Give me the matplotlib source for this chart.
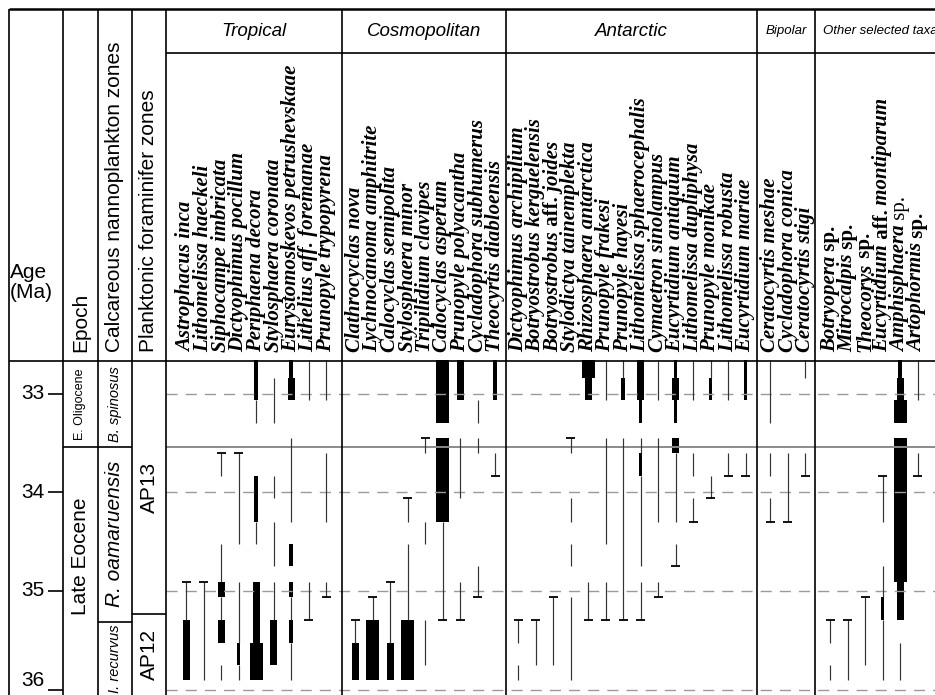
import re
import matplotlib
matplotlib.use('Agg')
import matplotlib.pyplot as plt

plt.rcParams['font.family'] = ['Liberation Sans', 'DejaVu Sans']
plt.rcParams['lines.scale_dashes'] = False

# ---- data -------------------------------------------------------------
# ranges: (top age, base age, abundance)  0 = present, 1 = few, 2 = common, 3 = abundant
# ends: ages of first / last occurrences (drawn as a cap)

tropical_taxa = ['Astrophacus inca', 'Lithomelissa haeckeli', 'Siphocampe imbricata',
                 'Dictyophimus pocillum', 'Periphaena decora', 'Stylosphaera coronata',
                 'Eurystomoskevos petrushevskaae', 'Lithelius aff. foremanae',
                 'Prunopyle trypopyrena']
tropical_ranges = [
    [(34.91, 35.29, 0), (35.29, 35.90, 2)],
    [(34.91, 35.90, 0)],
    [(33.60, 33.83, 0), (34.52, 34.91, 0), (34.91, 35.06, 2), (35.06, 35.29, 0),
     (35.29, 35.53, 2), (35.75, 35.90, 0)],
    [(33.60, 34.52, 0), (34.91, 35.53, 0), (35.53, 35.75, 1), (35.75, 35.90, 0)],
    [(32.66, 33.06, 1), (33.06, 33.30, 0), (33.83, 34.30, 1), (34.30, 34.52, 0),
     (34.91, 35.53, 2), (35.53, 35.90, 3)],
    [(32.84, 33.30, 0), (33.83, 34.06, 0), (34.30, 34.75, 0), (34.91, 35.29, 0),
     (35.29, 35.75, 2)],
    [(32.66, 32.84, 1), (32.84, 33.06, 2), (33.45, 34.30, 0), (34.52, 34.75, 1),
     (34.91, 35.06, 1), (35.06, 35.29, 0), (35.29, 35.53, 1), (35.53, 35.90, 0)],
    [(32.66, 33.06, 0), (34.91, 35.29, 0)],
    [(32.66, 33.06, 0), (33.60, 34.30, 0), (34.91, 35.06, 0)],
]
tropical_ends = [[34.91], [34.91], [33.60], [33.60], [], [], [], [35.29], [35.06]]

cosmo_taxa = ['Clathrocyclas nova', 'Lychnocanoma amphitrite', 'Calocyclas semipolita',
              'Stylosphaera minor', 'Tripilidium clavipes', 'Calocyclas asperum',
              'Prunopyle polyacantha', 'Cycladophora subhumerus', 'Theocyrtis diabloensis']
cosmo_ranges = [
    [(35.29, 35.53, 0), (35.53, 35.90, 2)],
    [(35.06, 35.29, 0), (35.29, 35.90, 3)],
    [(34.91, 35.53, 0), (35.53, 35.90, 2)],
    [(34.06, 34.30, 0), (34.52, 35.29, 0), (35.29, 35.90, 3)],
    [(33.45, 33.60, 0), (34.30, 34.52, 0), (35.29, 35.75, 0)],
    [(32.66, 33.30, 3), (33.45, 34.30, 3), (34.30, 35.29, 0)],
    [(32.66, 33.06, 2), (33.45, 34.06, 0), (34.91, 35.29, 0)],
    [(33.06, 33.30, 0), (33.45, 33.60, 0), (34.75, 35.06, 0)],
    [(32.66, 33.06, 1), (33.60, 33.83, 0)],
]
cosmo_ends = [[35.29], [35.06], [34.91], [34.06], [33.45], [35.29], [35.29], [35.06], [33.83]]

antarctic_taxa = ['Dictyophimus archipilium', 'Botryostrobus kerguelensis',
                  'Botryostrobus {aff.} joides', 'Stylodictya tainemplekta',
                  'Rhizosphaera antarctica', 'Prunopyle frakesi', 'Prunopyle hayesi',
                  'Lithomelissa sphaerocephalis', 'Cymaetron sinolampus',
                  'Eucyrtidium antiquum', 'Lithomelissa dupliphysa', 'Prunopyle monikae',
                  'Lithomelissa robusta', 'Eucyrtidium mariae']
antarctic_ranges = [
    [(35.29, 35.53, 0), (35.75, 35.90, 0)],
    [(35.29, 35.75, 0)],
    [(35.06, 35.75, 0)],
    [(33.45, 33.60, 0), (34.06, 34.30, 0), (34.52, 34.75, 0), (35.06, 35.90, 0)],
    [(32.66, 32.84, 3), (32.84, 33.06, 2), (34.91, 35.29, 0)],
    [(32.66, 33.06, 0), (33.45, 34.52, 0), (34.91, 35.29, 0)],
    [(32.66, 32.84, 0), (32.84, 33.06, 1), (33.45, 35.29, 0)],
    [(32.66, 33.06, 2), (33.06, 33.30, 1), (33.45, 33.60, 0), (33.60, 33.83, 1),
     (33.83, 34.75, 0), (34.91, 35.29, 0)],
    [(32.66, 33.06, 0), (33.45, 34.30, 0), (34.91, 35.06, 0)],
    [(32.66, 32.84, 1), (32.84, 33.06, 2), (33.06, 33.30, 1), (33.45, 33.60, 2),
     (33.60, 34.30, 0), (34.52, 34.75, 0)],
    [(32.66, 33.06, 0), (33.60, 33.83, 0), (34.06, 34.30, 0)],
    [(32.66, 32.84, 0), (32.84, 33.06, 1), (33.83, 34.06, 0)],
    [(32.66, 33.06, 0), (33.60, 33.83, 0)],
    [(32.66, 33.06, 1), (33.60, 33.83, 0)],
]
antarctic_ends = [[35.29], [35.29], [35.06], [33.45], [35.29], [35.29], [35.29], [35.29],
                  [35.06], [34.75], [34.30], [34.06], [33.83], [33.83]]

bipolar_taxa = ['Ceratocyrtis meshae', 'Cycladophora conica', 'Ceratocyrtis stigi']
bipolar_ranges = [
    [(32.66, 33.30, 0), (33.60, 33.83, 0), (34.06, 34.30, 0)],
    [(33.60, 34.30, 0)],
    [(32.66, 32.84, 0), (33.60, 33.83, 0)],
]
bipolar_ends = [[34.30], [34.30], [33.83]]

other_taxa = ['Botryopera {sp.}', 'Mitrocalpis {sp.}', 'Theocorys {sp.}',
              'Eucyrtidium {aff.} montiparum', 'Amphisphaera [sp.]', 'Artophormis {sp.}']
other_ranges = [
    [(35.29, 35.53, 0), (35.75, 35.90, 0)],
    [(35.29, 35.90, 0)],
    [(35.06, 35.75, 0)],
    [(33.83, 34.30, 0), (34.75, 35.06, 0), (35.06, 35.29, 1), (35.29, 35.90, 0)],
    [(32.66, 32.84, 1), (32.84, 33.06, 2), (33.06, 33.30, 3), (33.45, 34.91, 3),
     (34.91, 35.29, 2), (35.53, 35.90, 0)],
    [(32.66, 33.06, 0), (33.60, 33.83, 0)],
]
other_ends = [[35.29], [35.29], [35.06], [33.83], [], [33.83]]

age_ticks = [33, 34, 35, 36]
eo_boundary = 33.54        # Eocene / Oligocene
nanno_boundary = 35.31     # R. oamaruensis / I. recurvus
foram_boundary = 35.23     # AP13 / AP12
age_top, age_base = 32.662, 36.055

# ---- layout (pixel units) --------------------------------------------
W, H = 935, 695
SPACING = 17.5
groups = [
    ('Tropical', 166, 342, 186, tropical_taxa, tropical_ranges, tropical_ends, 13.5),
    ('Cosmopolitan', 342, 506, 355, cosmo_taxa, cosmo_ranges, cosmo_ends, 13.5),
    ('Antarctic', 506, 757, 518, antarctic_taxa, antarctic_ranges, antarctic_ends, 13.5),
    ('Bipolar', 757, 815, 770, bipolar_taxa, bipolar_ranges, bipolar_ends, 9.5),
    ('Other selected taxa', 815, 945, 830, other_taxa, other_ranges, other_ends, 9.5),
]
bar_width = {1: 3.5, 2: 7.0, 3: 13.0}
HDR_BOTTOM = 360.5
NAME_SIZE = 15

fig = plt.figure(figsize=(W / 100, H / 100), dpi=100)

# range chart: x in pixels, y in Ma
ax = fig.add_axes([0, 0, 945 / W, 1 - HDR_BOTTOM / H])
ax.set_xlim(0, 945)
ax.set_ylim(age_base, age_top)
ax.axis('off')

# header / frame: pixel coordinates
hdr = fig.add_axes([0, 0, 1, 1], zorder=3)
hdr.set_xlim(0, W)
hdr.set_ylim(H, 0)
hdr.axis('off')

# reference lines
for a in age_ticks:
    ax.hlines(a, 166, 945, colors='#9a9a9a', lw=1.0, linestyles=(0, (8, 5.8)))
ax.hlines(eo_boundary, 166, 945, colors='#8a8a8a', lw=1.4)

# ranges
for name, x0, x1, first, taxa, ranges, ends, hsize in groups:
    for i, (segs, caps) in enumerate(zip(ranges, ends)):
        x = first + i * SPACING
        for top, base, lvl in segs:
            if lvl == 0:
                ax.vlines(x, top, base, colors='#333333', lw=0.85)
            else:
                ax.bar(x, base - top, bottom=top, width=bar_width[lvl], color='black',
                       linewidth=0)
        for e in caps:
            ax.hlines(e, x - 4.5, x + 4.5, colors='black', lw=1.3)


def draw_name(x, label):
    # split italic / upright pieces, spaces carried to the start of the next piece
    parts = [p for p in re.split(r'(\{[^}]*\}|\[[^\]]*\])', label) if p]
    pieces = []
    carry = ''
    for p in parts:
        if p.startswith('{'):
            txt, kw = p[1:-1], dict(style='normal', weight='bold')
        elif p.startswith('['):
            txt, kw = p[1:-1], dict(style='normal', weight='normal')
        else:
            txt, kw = p, dict(style='italic', weight='bold')
        txt = carry + txt
        carry = txt[len(txt.rstrip()):]
        pieces.append((txt.rstrip(), kw))
    prev = None
    for txt, kw in pieces:
        common = dict(rotation=90, ha='center', va='bottom', family='Liberation Serif',
                      size=NAME_SIZE, **kw)
        if prev is None:
            prev = hdr.text(x, 352, txt, **common)
        else:
            prev = hdr.annotate(txt, xy=(0.5, 1.0), xycoords=prev, **common)


for name, x0, x1, first, taxa, ranges, ends, hsize in groups:
    hdr.text((x0 + x1) / 2, 31, name, ha='center', va='center', style='italic', size=hsize)
    for i, t in enumerate(taxa):
        draw_name(first + i * SPACING, t)

# frame lines
lc = dict(colors='black', lw=1.2)
hdr.hlines(9, 9, W, colors='black', lw=1.8)
hdr.hlines(53, 166, W, **lc)
hdr.hlines(HDR_BOTTOM, 9, W, **lc)
for xv in [9, 63, 98, 132, 166, 342, 506, 757, 815]:
    hdr.vlines(xv, 9, H, **lc)

# left columns
hdr.text(10, 272, 'Age', ha='left', va='center', size=15)
hdr.text(10, 292, '(Ma)', ha='left', va='center', size=15)
hdr.text(81, 352, 'Epoch', rotation=90, ha='center', va='bottom', size=15)
hdr.text(115, 352, 'Calcareous nannoplankton zones', rotation=90, ha='center', va='bottom', size=15)
hdr.text(149, 352, 'Planktonic foraminifer zones', rotation=90, ha='center', va='bottom', size=15)

for a in age_ticks:
    ax.hlines(a, 48, 63, colors='black', lw=1.2)
    ax.text(45, a, str(a), ha='right', va='center' if a < age_ticks[-1] else 'bottom', size=15)

ax.hlines(eo_boundary, 63, 132, colors='black', lw=1.2)
ax.hlines(nanno_boundary, 98, 132, colors='black', lw=1.2)
ax.hlines(foram_boundary, 132, 166, colors='black', lw=1.2)

ax.text(80.5, (age_top + eo_boundary) / 2, 'E. Oligocene', rotation=90, ha='center',
        va='center', size=9)
ax.text(80.5, 34.65, 'Late Eocene', rotation=90, ha='center', va='center', size=15)
ax.text(115, (age_top + eo_boundary) / 2, 'B. spinosus', rotation=90, ha='center',
        va='center', size=10.5, style='italic')
ax.text(115, (eo_boundary + nanno_boundary) / 2, 'R. oamaruensis', rotation=90,
        ha='center', va='center', size=15, style='italic')
ax.text(115, (nanno_boundary + age_base) / 2, 'I. recurvus', rotation=90, ha='center',
        va='center', size=10.5, style='italic')
ax.text(149, (age_top + foram_boundary) / 2, 'AP13', rotation=90, ha='center',
        va='center', size=15)
ax.text(149, (foram_boundary + age_base) / 2, 'AP12', rotation=90, ha='center',
        va='center', size=15)

fig.savefig('out.png', dpi=100)
